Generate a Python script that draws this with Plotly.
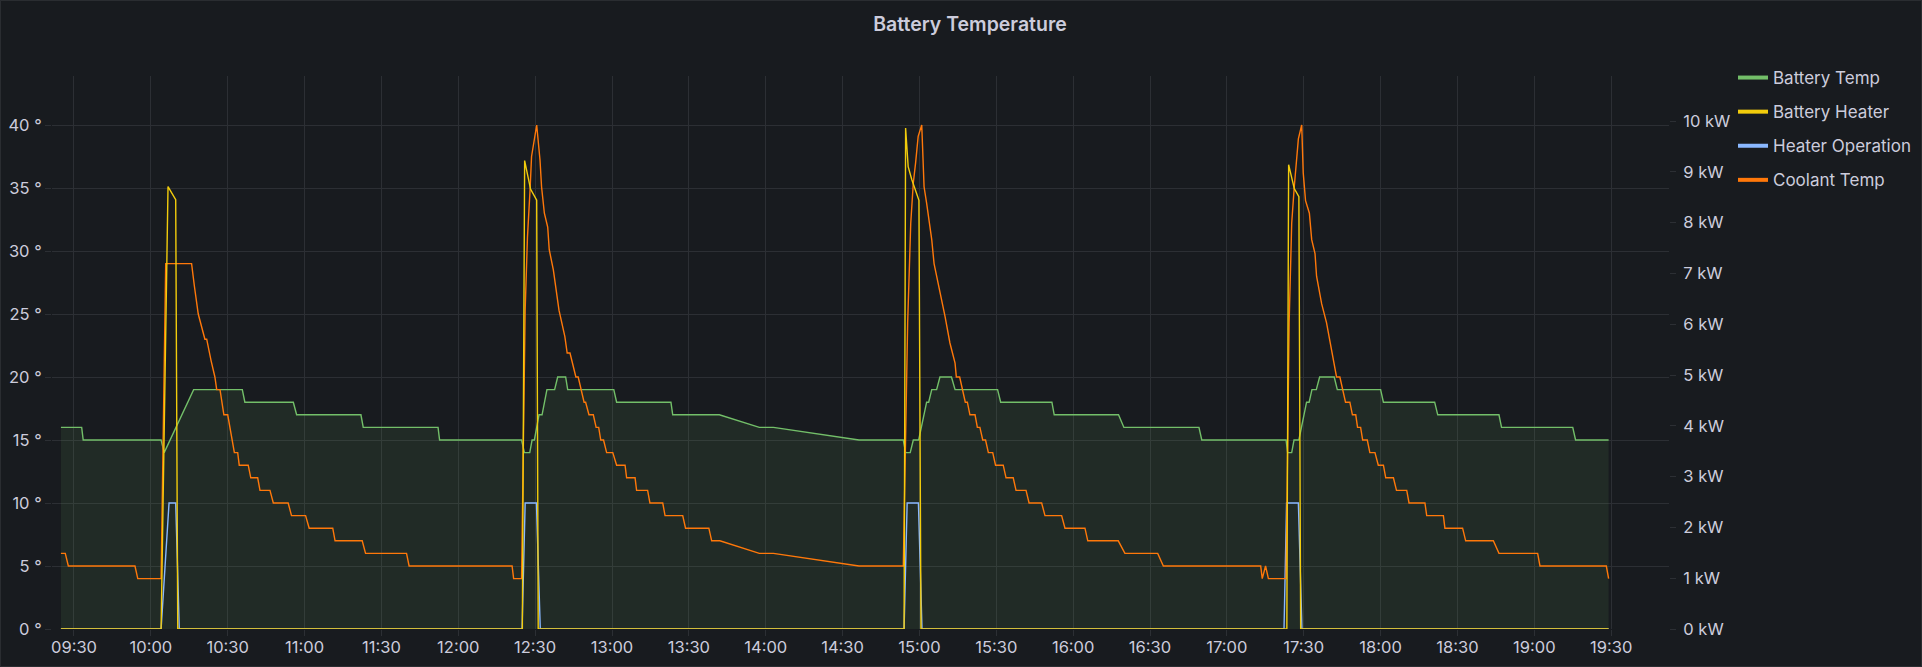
import plotly.graph_objects as go

DAY = "2023-01-01 "

# ---------------- data ----------------
battery_temp_time = [
    "09:24:54", "09:33:00", "09:33:36", "10:04:00", "10:05:12", "10:16:42", "10:35:42", "10:36:42",
    "10:55:36", "10:56:54", "11:22:00", "11:22:54", "11:52:06", "11:52:42", "12:24:42", "12:25:48",
    "12:27:54", "12:28:48", "12:29:42", "12:31:30", "12:32:42", "12:34:36", "12:37:36", "12:38:48",
    "12:41:54", "12:42:42", "13:00:42", "13:01:48", "13:23:00", "13:23:42", "13:41:54", "13:57:30",
    "14:03:00", "14:36:24", "14:53:42", "14:54:36", "14:56:24", "14:57:36", "14:59:42", "15:02:48",
    "15:03:36", "15:04:48", "15:06:42", "15:08:00", "15:12:30", "15:13:54", "15:30:30", "15:31:42",
    "15:51:42", "15:52:36", "16:17:42", "16:19:48", "16:49:06", "16:50:12", "17:23:06", "17:23:42",
    "17:25:18", "17:26:12", "17:28:06", "17:31:06", "17:32:06", "17:33:12", "17:34:54", "17:36:12",
    "17:41:54", "17:43:06", "18:00:00", "18:01:06", "18:21:06", "18:22:18", "18:46:12", "18:47:12",
    "19:15:00", "19:16:06", "19:29:00",
]
battery_temp_value = [
    16, 16, 15, 15, 14, 19, 19, 18,
    18, 17, 17, 16, 16, 15, 15, 14,
    14, 15, 15, 17, 17, 19, 19, 20,
    20, 19, 19, 18, 18, 17, 17, 16,
    16, 15, 15, 14, 14, 15, 15, 18,
    18, 19, 19, 20, 20, 19, 19, 18,
    18, 17, 17, 16, 16, 15, 15, 14,
    14, 15, 15, 18, 18, 19, 19, 20,
    20, 19, 19, 18, 18, 17, 17, 16,
    16, 15, 15,
]

battery_heater_time = [
    "09:24:54", "10:04:00", "10:06:42", "10:09:42", "10:10:30",
    "12:25:00", "12:25:54", "12:28:12", "12:30:36", "12:31:12",
    "14:54:00", "14:54:36", "14:55:36", "14:57:00", "14:59:48", "15:00:36",
    "17:23:24", "17:24:06", "17:26:18", "17:28:06", "17:28:48", "19:29:00",
]
battery_heater_kw = [
    0, 0, 8.71, 8.45, 0,
    0, 9.22, 8.66, 8.44, 0,
    0, 9.86, 9.10, 8.85, 8.44, 0,
    0, 9.14, 8.67, 8.51, 0, 0,
]

heater_op_time = [
    "09:24:54", "10:04:00", "10:07:06", "10:09:42", "10:11:06",
    "12:24:54", "12:26:06", "12:30:30", "12:32:00",
    "14:54:00", "14:55:12", "14:59:36", "15:01:00",
    "17:22:18", "17:23:18", "17:27:54", "17:29:18", "19:29:00",
]
heater_op_value = [
    0, 0, 10, 10, 0,
    0, 10, 10, 0,
    0, 10, 10, 0,
    0, 10, 10, 0, 0,
]

coolant_temp_time = [
    "09:24:54", "09:26:36", "09:27:48", "09:53:48", "09:54:54", "10:04:00", "10:05:48", "10:15:54",
    "10:17:00", "10:18:30", "10:21:06", "10:21:48", "10:23:30", "10:25:00", "10:25:42", "10:27:00",
    "10:28:30", "10:30:00", "10:32:36", "10:33:54", "10:34:30", "10:38:00", "10:39:00", "10:41:42",
    "10:42:36", "10:46:30", "10:47:48", "10:53:36", "10:54:54", "11:00:24", "11:01:48", "11:11:00",
    "11:11:54", "11:22:30", "11:23:48", "11:39:48", "11:40:48", "12:21:00", "12:21:36", "12:24:42",
    "12:26:06", "12:27:00", "12:28:00", "12:28:36", "12:30:36", "12:31:54", "12:32:30", "12:33:36",
    "12:34:54", "12:35:30", "12:37:06", "12:39:18", "12:41:36", "12:42:30", "12:43:36", "12:45:54",
    "12:46:48", "12:49:06", "12:49:42", "12:51:00", "12:52:42", "12:53:48", "12:54:48", "12:55:36",
    "12:56:42", "12:57:54", "13:00:18", "13:01:48", "13:05:06", "13:05:42", "13:09:00", "13:09:36",
    "13:13:54", "13:14:48", "13:19:48", "13:20:42", "13:27:36", "13:28:42", "13:37:48", "13:38:54",
    "13:42:06", "13:57:30", "14:03:00", "14:36:24", "14:53:42", "14:55:24", "14:56:36", "14:57:36",
    "14:58:30", "14:59:30", "15:00:54", "15:01:48", "15:02:48", "15:03:48", "15:04:48", "15:05:42",
    "15:08:00", "15:10:00", "15:11:54", "15:13:54", "15:14:24", "15:15:42", "15:17:54", "15:18:42",
    "15:19:42", "15:21:42", "15:22:36", "15:23:36", "15:24:42", "15:25:48", "15:26:54", "15:28:36",
    "15:29:42", "15:32:42", "15:33:48", "15:36:36", "15:37:42", "15:41:36", "15:42:48", "15:47:42",
    "15:49:00", "15:55:30", "15:56:48", "16:04:36", "16:05:42", "16:17:36", "16:20:12", "16:33:00",
    "16:35:12", "17:13:12", "17:13:48", "17:15:06", "17:16:12", "17:23:06", "17:24:18", "17:25:18",
    "17:26:18", "17:27:12", "17:27:54", "17:29:12", "17:29:48", "17:30:42", "17:32:12", "17:33:06",
    "17:34:24", "17:35:00", "17:37:00", "17:38:54", "17:40:54", "17:42:12", "17:42:48", "17:44:06",
    "17:46:18", "17:48:00", "17:49:00", "17:50:18", "17:51:00", "17:52:12", "17:53:00", "17:54:48",
    "17:55:48", "17:57:48", "17:59:06", "18:01:06", "18:02:00", "18:05:00", "18:06:12", "18:10:12",
    "18:11:06", "18:17:18", "18:18:00", "18:24:30", "18:25:06", "18:32:00", "18:33:12", "18:44:00",
    "18:46:12", "19:01:18", "19:02:12", "19:28:06", "19:29:00",
]
coolant_temp_value = [
    6, 6, 5, 5, 4, 4, 29, 29,
    27.2, 25, 23, 23, 21.3, 20, 19, 19,
    17, 17, 14, 14, 13, 13, 12, 12,
    11, 11, 10, 10, 9, 9, 8, 8,
    7, 7, 6, 6, 5, 5, 4, 4,
    25.3, 31.1, 34.8, 37.5, 40, 37.2, 35.1, 33,
    31.9, 30.1, 28.5, 25.3, 23.2, 21.9, 21.9, 20,
    20, 18, 18, 17, 17, 16, 16, 15,
    15, 14, 14, 13, 13, 12, 12, 11,
    11, 10, 10, 9, 9, 8, 8, 7,
    7, 6, 6, 5, 5, 24.3, 32.2, 35.4,
    37, 39.1, 40, 35.1, 33.8, 32.5, 30.9, 29,
    26.9, 24.8, 22.7, 21.1, 20, 20, 18, 18,
    17, 17, 16, 16, 15, 15, 14, 14,
    13, 13, 12, 12, 11, 11, 10, 10,
    9, 9, 8, 8, 7, 7, 6, 6,
    5, 5, 4, 5, 4, 4, 24.3, 32.2,
    35.1, 37, 38.9, 40, 36.2, 34, 33, 30.9,
    29.8, 28, 25.8, 24.3, 22.1, 20.8, 20, 20,
    18, 18, 17, 17, 16, 16, 15, 15,
    14, 14, 13, 13, 12, 12, 11, 11,
    10, 10, 9, 9, 8, 8, 7, 7,
    6, 6, 5, 5, 4,
]

deg_ticks = [0, 5, 10, 15, 20, 25, 30, 35, 40]
kw_ticks = [0, 1, 2, 3, 4, 5, 6, 7, 8, 9, 10]

series_names = ["Battery Temp", "Battery Heater", "Heater Operation", "Coolant Temp"]
series_colors = ["#73BF69", "#F2CC0C", "#8AB8FF", "#FF780A"]

# ---------------- style ----------------
BG = "#181b1f"
GRID = "#2c2f34"
TXT = "#ccccdc"
FONT = "Inter, Roboto, sans-serif"
W, H = 1922, 667
L, R, T, B = 52, 1669, 76, 629  # plot area in pixels


def ts(lst):
    return [DAY + t for t in lst]


fig = go.Figure()

fig.add_trace(go.Scatter(
    x=ts(battery_temp_time), y=battery_temp_value, mode="lines",
    line=dict(color=series_colors[0], width=1.4), fill="tozeroy",
    fillcolor="rgba(115,191,105,0.10)", showlegend=False, yaxis="y",
))
fig.add_trace(go.Scatter(
    x=ts(battery_heater_time), y=battery_heater_kw, mode="lines",
    line=dict(color=series_colors[1], width=1.4), showlegend=False, yaxis="y2",
))
fig.add_trace(go.Scatter(
    x=ts(heater_op_time), y=heater_op_value, mode="lines",
    line=dict(color=series_colors[2], width=1.4), showlegend=False, yaxis="y",
))
fig.add_trace(go.Scatter(
    x=ts(coolant_temp_time), y=coolant_temp_value, mode="lines",
    line=dict(color=series_colors[3], width=1.4), showlegend=False, yaxis="y",
))

# legend swatches (thick bars like Grafana)
for i, (name, col) in enumerate(zip(series_names, series_colors)):
    fig.add_trace(go.Scatter(
        x=[None], y=[None], mode="lines", name=name,
        line=dict(color=col, width=4), legendgroup=f"g{i}", showlegend=True,
    ))

pw = R - L
ph = B - T


def px_x(p):
    return (p - L) / pw


def px_y(p):
    return (B - p) / ph


fig.update_layout(
    width=W, height=H,
    margin=dict(l=L, r=W - R, t=T, b=H - B, autoexpand=False),
    paper_bgcolor=BG, plot_bgcolor=BG,
    font=dict(family=FONT, color=TXT, size=16),
    title=dict(text="Battery Temperature", x=970 / W, xref="container", xanchor="center",
               y=1 - 24.5 / H, yref="container", yanchor="middle",
               font=dict(family=FONT, size=19.5, color=TXT, weight=600)),
    xaxis=dict(
        type="date",
        range=[DAY + "09:21:25", DAY + "19:52:34"],
        tick0=DAY + "09:30", dtick=1800000, tickformat="%H:%M",
        showgrid=True, gridcolor=GRID, gridwidth=1,
        ticks="outside", ticklen=6, tickcolor=GRID,
        ticklabelstandoff=-3,
        showline=False, zeroline=False,
        tickfont=dict(family=FONT, size=16.5, color=TXT),
    ),
    yaxis=dict(
        range=[0, (B - T) / 12.6],
        tickvals=deg_ticks, ticktext=[f"{v} °" for v in deg_ticks],
        showgrid=True, gridcolor=GRID, gridwidth=1,
        ticks="outside", ticklen=6, tickcolor=GRID,
        showline=False, zeroline=False,
        tickfont=dict(family=FONT, size=16.5, color=TXT),
    ),
    yaxis2=dict(
        overlaying="y", side="right",
        range=[0, (B - T) / 50.8],
        tickvals=kw_ticks, ticktext=[f"{v} kW" for v in kw_ticks],
        showgrid=False, ticks="outside", ticklen=6, tickcolor=GRID,
        ticklabelstandoff=4,
        showline=False, zeroline=False,
        tickfont=dict(family=FONT, size=16.5, color=TXT),
    ),
    legend=dict(
        x=px_x(1733), y=px_y(60), xanchor="left", yanchor="top",
        bgcolor="rgba(0,0,0,0)", borderwidth=0,
        font=dict(family=FONT, size=17, color=TXT),
        tracegroupgap=9, itemwidth=30, traceorder="grouped",
    ),
    shapes=[dict(
        type="rect", xref="paper", yref="paper",
        x0=px_x(0.5), x1=px_x(W - 0.5), y0=px_y(H - 0.5), y1=px_y(0.5),
        line=dict(color="rgba(204,204,220,0.10)", width=1), fillcolor="rgba(0,0,0,0)",
        layer="below",
    )],
)

fig.write_html("out.html")
